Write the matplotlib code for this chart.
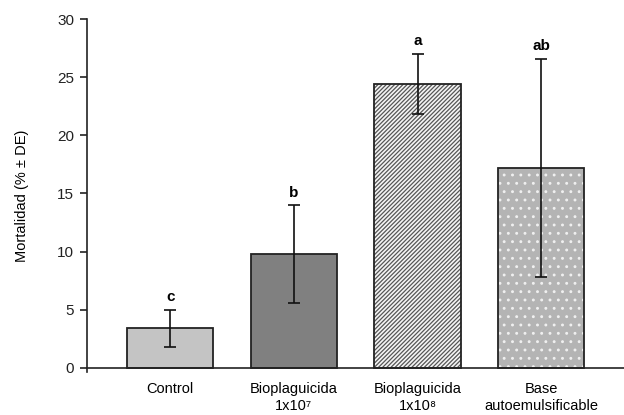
import matplotlib
matplotlib.use("Agg")
import matplotlib.pyplot as plt
import numpy as np

categories = ["Control", "Bioplaguicida\n1x10⁷", "Bioplaguicida\n1x10⁸", "Base\nautoemulsificable"]
means = [3.4, 9.8, 24.4, 17.2]
errors = [1.6, 4.2, 2.6, 9.4]
letters = ["c", "b", "a", "ab"]
yticks = [0, 5, 10, 15, 20, 25, 30]

plt.rcParams['font.family'] = ['Liberation Sans', 'DejaVu Sans']
plt.rcParams['hatch.linewidth'] = 0.9

fig = plt.figure(figsize=(6.24, 4.15), dpi=100)
ax = fig.add_axes([0.139, 0.1036, 0.861, 0.8506])

x = np.arange(len(categories))
w = 0.70
edge = "#222222"

# Control
ax.bar(x[0], means[0], w, color="#c4c4c4", edgecolor=edge, linewidth=1.3, zorder=2)
# Bioplaguicida 1x10^7
ax.bar(x[1], means[1], w, color="#808080", edgecolor=edge, linewidth=1.3, zorder=2)
# Bioplaguicida 1x10^8 hatched
ax.bar(x[2], means[2], w, color="#f4f4f4", edgecolor="#555555", hatch="////////", linewidth=0, zorder=2)
ax.bar(x[2], means[2], w, fill=False, edgecolor=edge, linewidth=1.3, zorder=3)
# Base autoemulsificable dotted
ax.bar(x[3], means[3], w, color="#b4b4b4", edgecolor="#f0f0f0", hatch="..", linewidth=0, zorder=2)
ax.bar(x[3], means[3], w, fill=False, edgecolor=edge, linewidth=1.3, zorder=3)

ax.errorbar(x, means, yerr=errors, fmt="none", ecolor="#111111", elinewidth=1.2,
            capsize=4, capthick=1.2, zorder=4)

for xi, m, e, l in zip(x, means, errors, letters):
    ax.annotate(l, (xi, m + e), xytext=(0, 4), textcoords="offset points",
                ha="center", va="bottom", fontsize=11, fontweight="bold")

ax.set_xlim(-0.675, 3.67)
ax.set_ylim(-0.35, 30)
ax.spines['bottom'].set_position(('data', 0))
ax.spines['right'].set_visible(False)
ax.spines['top'].set_visible(False)
ax.spines['left'].set_bounds(-0.35, 30)
for s in ('left', 'bottom'):
    ax.spines[s].set_linewidth(1.2)
    ax.spines[s].set_color("#222222")

ax.set_yticks(yticks)
ax.set_yticklabels([str(t) for t in yticks], fontsize=11)
ax.tick_params(axis='y', direction='out', length=5, width=1.2, pad=4, colors="#222222")
ax.set_xticks(x)
ax.set_xticklabels(categories, fontsize=10.5)
ax.tick_params(axis='x', length=0, pad=10)
for lab in ax.get_xticklabels():
    lab.set_linespacing(1.3)

ax.set_ylabel("Mortalidad (% ± DE)", fontsize=10.5, labelpad=20)

fig.savefig("out.png", dpi=100)
